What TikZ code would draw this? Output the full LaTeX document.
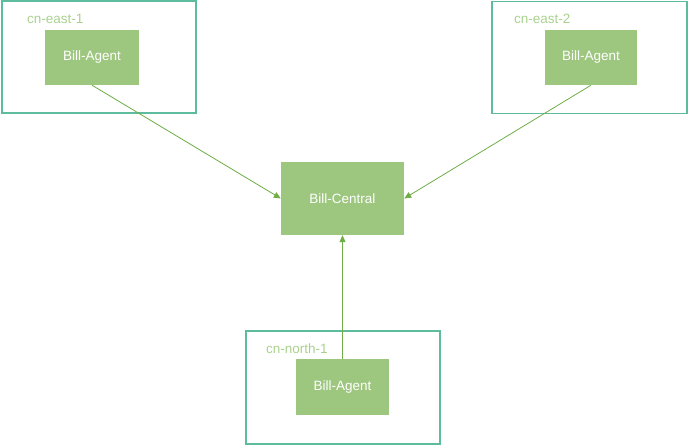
\documentclass[tikz,border=0pt]{standalone}
\usepackage{fontspec}
\setmainfont{Liberation Sans}
\usetikzlibrary{arrows.meta}
\definecolor{regionc}{HTML}{5DBB9E}
\definecolor{agentc}{HTML}{9DC67F}
\definecolor{arrowc}{HTML}{70AD47}
\definecolor{labelc}{HTML}{A9D18E}
\tikzset{
  region/.style={draw=regionc, line width=1.2pt, fill=none, inner sep=0pt},
  agent/.style={fill=agentc, draw=none, text=white, font=\fontsize{13.5}{15}\selectfont, inner sep=0pt},
  rlabel/.style={text=labelc, font=\fontsize{13.5}{15}\selectfont, anchor=west, inner sep=0pt},
  conn/.style={draw=arrowc, line width=0.8pt, -{Triangle[length=7pt,width=6pt]}}
}
\begin{document}
\begin{tikzpicture}[x=1pt,y=-1pt]
\useasboundingbox (0,0) rectangle (691,446);
% regions
\node[region, minimum width=194pt, minimum height=112pt] (r1) at (99,57) {};
\node[region, minimum width=195pt, minimum height=112pt] (r2) at (589.5,57.5) {};
\node[region, minimum width=194pt, minimum height=113pt] (r3) at (343,387.5) {};
\node[rlabel] (l1) at (27,19) {cn-east-1};
\node[rlabel] (l2) at (514,19) {cn-east-2};
\node[rlabel] (l3) at (266,349) {cn-north-1};
% agents
\node[agent, minimum width=94pt, minimum height=55pt] (a1) at (92,57.5) {Bill-Agent};
\node[agent, minimum width=92pt, minimum height=55pt] (a2) at (591,57.5) {Bill-Agent};
\node[agent, minimum width=93pt, minimum height=56pt] (a3) at (342.5,387) {Bill-Agent};
\node[agent, minimum width=123pt, minimum height=73pt] (c) at (342.5,198.5) {Bill-Central};
% connectors
\draw[conn] (a1.south) -- (c.west);
\draw[conn] (a2.south) -- (c.east);
\draw[conn] (a3.north) -- (c.south);
\end{tikzpicture}
\end{document}
